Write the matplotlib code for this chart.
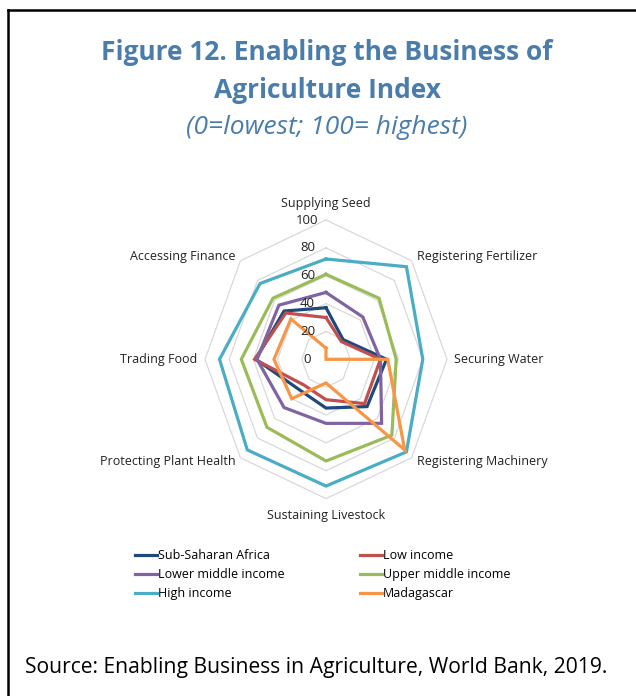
import numpy as np
import matplotlib
matplotlib.use('Agg')
import matplotlib.pyplot as plt
from matplotlib.lines import Line2D

plt.rcParams['font.family'] = ['Open Sans', 'DejaVu Sans']

# categories clockwise from the top
CATEGORIES = ['Supplying Seed', 'Registering Fertilizer', 'Securing Water',
              'Registering Machinery', 'Sustaining Livestock',
              'Protecting Plant Health', 'Trading Food', 'Accessing Finance']

SSA        = [37, 20, 50, 48, 35, 31, 58, 49]
LOW        = [30, 18, 45, 45, 29, 26, 59, 47]
LOWER_MID  = [48, 43, 45, 65, 46, 49, 57, 55]
UPPER_MID  = [61, 62, 58, 77, 73, 69, 70, 62]
HIGH       = [72, 94, 80, 94, 91, 92, 88, 77]
MADAGASCAR = [8, 0, 51, 92, 17, 40, 43, 41]

SERIES = ['Sub-Saharan Africa', 'Low income', 'Lower middle income',
          'Upper middle income', 'High income', 'Madagascar']
VALUES = [SSA, LOW, LOWER_MID, UPPER_MID, HIGH, MADAGASCAR]
COLORS = ['#1F497D', '#C0504D', '#8064A2', '#9BBB59', '#4BACC6', '#F79646']

RINGS = [20, 40, 60, 80, 100]
TITLE_BLUE = '#4A7DAA'

fig = plt.figure(figsize=(6.36, 6.96), dpi=100)

# radar drawn in a cartesian box (chart is stretched vertically in the source)
ax = fig.add_axes([205 / 636, (696 - 498.6) / 696, 242 / 636, 278.6 / 696])
ax.set_xlim(-100, 100)
ax.set_ylim(-100, 100)
ax.axis('off')

n = len(CATEGORIES)
theta = np.arange(n) * 2 * np.pi / n
sx, sy = np.sin(theta), np.cos(theta)

def closed(a):
    return np.append(a, a[0])

for r in RINGS:
    ax.plot(closed(r * sx), closed(r * sy), color='#D9D9D9', lw=0.9,
            zorder=1, clip_on=False)

for r in [0] + RINGS:
    ax.text(-15.3, r, str(r), ha='center', va='center', fontsize=9.5,
            color='#222222', zorder=10)

for name, vals, col in zip(SERIES, VALUES, COLORS):
    v = np.array(vals, dtype=float)
    ax.plot(closed(v * sx), closed(v * sy), color=col, lw=2.3,
            solid_joinstyle='miter', zorder=3, clip_on=False)

for i, lab in enumerate(CATEGORIES):
    s, c = sx[i], sy[i]
    if abs(s) < 1e-6:
        ax.text(0, 112 * np.sign(c), lab, ha='center', va='center',
                fontsize=9, color='#222222', clip_on=False)
    else:
        ax.text(106 * s, 104 * c, lab, ha='left' if s > 0 else 'right',
                va='center', fontsize=9, color='#222222', clip_on=False)

# legend
handles = [Line2D([0], [0], color=c, lw=2.3) for c in COLORS]
order = [0, 2, 4, 1, 3, 5]
fig.legend([handles[i] for i in order], [SERIES[i] for i in order],
           loc='upper left', bbox_to_anchor=(135 / 636, 1 - 549 / 696),
           ncol=2, frameon=False, fontsize=9, handlelength=1.75,
           handletextpad=0.1, columnspacing=6.0, labelspacing=0.5,
           borderpad=0, borderaxespad=0)

# titles
fig.text(327 / 636, 1 - 52 / 696, 'Figure 12. Enabling the Business of',
         ha='center', va='center', fontsize=19, fontweight='bold',
         color=TITLE_BLUE)
fig.text(327 / 636, 1 - 90 / 696, 'Agriculture Index', ha='center',
         va='center', fontsize=19, fontweight='bold', color=TITLE_BLUE)
fig.text(327 / 636, 1 - 127 / 696, '(0=lowest; 100= highest)', ha='center',
         va='center', fontsize=19, style='italic', color=TITLE_BLUE)

fig.text(25 / 636, 1 - 668 / 696,
         'Source: Enabling Business in Agriculture, World Bank, 2019.',
         ha='left', va='center', fontsize=15.2, color='black')

# frame
fig.add_artist(Line2D([8 / 636, 8 / 636], [0, 1 - 10 / 696],
                      transform=fig.transFigure, color='black', lw=1.8))
fig.add_artist(Line2D([8 / 636, 1], [1 - 10 / 696, 1 - 10 / 696],
                      transform=fig.transFigure, color='black', lw=1.8))

fig.savefig('out.png', dpi=100)
